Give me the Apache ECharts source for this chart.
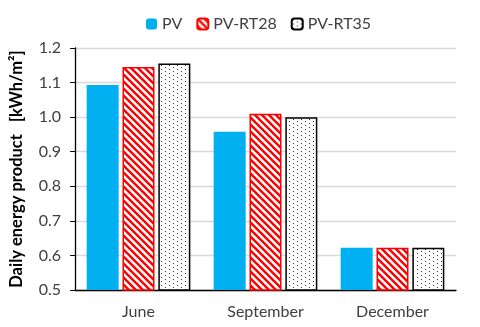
<!DOCTYPE html>
<html>
<head>
<meta charset="utf-8">
<script src="https://cdn.jsdelivr.net/npm/echarts@6/dist/echarts.min.js"></script>
<style>html,body{margin:0;padding:0;background:#fff}#c{width:480px;height:327px}</style>
</head>
<body>
<div id="c"></div>
<script>
const categories = ['June', 'September', 'December'];
const seriesNames = ['PV', 'PV-RT28', 'PV-RT35'];
const pv = [1.093, 0.958, 0.622];
const pvRT28 = [1.145, 1.010, 0.622];
const pvRT35 = [1.155, 1.000, 0.622];
const yTicks = [0.5, 0.6, 0.7, 0.8, 0.9, 1.0, 1.1, 1.2];

function stripeCanvas() {
  const s = 7;
  const c = document.createElement('canvas');
  c.width = s; c.height = s;
  const g = c.getContext('2d');
  g.fillStyle = '#fff'; g.fillRect(0, 0, s, s);
  g.strokeStyle = '#ff0000'; g.lineWidth = 2.4;
  g.beginPath();
  for (let k = -s; k <= s; k += s) {
    g.moveTo(k - 1, -1);
    g.lineTo(k + s + 1, s + 1);
  }
  g.stroke();
  return c;
}
function dotCanvas() {
  const c = document.createElement('canvas');
  c.width = 8; c.height = 8;
  const g = c.getContext('2d');
  g.fillStyle = '#fff'; g.fillRect(0, 0, 8, 8);
  g.fillStyle = '#333';
  g.fillRect(1, 1, 1, 1);
  g.fillRect(5, 3, 1, 1);
  g.fillRect(1, 5, 1, 1);
  g.fillRect(5, 7, 1, 1);
  return c;
}
const stripe = { image: stripeCanvas(), repeat: 'repeat' };
const dots = { image: dotCanvas(), repeat: 'repeat' };

const chart = echarts.init(document.getElementById('c'), null, { renderer: 'canvas' });
const font = 'Lato, "Open Sans", sans-serif';
chart.setOption({
  animation: false,
  textStyle: { fontFamily: font },
  legend: {
    top: 11, left: 141, itemWidth: 11, itemHeight: 11, itemGap: 14,
    textStyle: { fontSize: 16, color: '#404040', fontFamily: font },
    data: seriesNames
  },
  grid: { left: 74, right: 24, top: 48, bottom: 37 },
  xAxis: {
    type: 'category', data: categories,
    axisLine: { lineStyle: { color: '#000', width: 1.3 } },
    axisTick: { show: false },
    axisLabel: { fontSize: 16, color: '#404040', margin: 14, fontFamily: font }
  },
  yAxis: {
    type: 'value', min: 0.5, max: 1.2, interval: 0.1,
    name: 'Daily energy product   [kWh/m²]',
    nameLocation: 'middle', nameGap: 50, nameRotate: 90,
    nameTextStyle: { fontSize: 16.5, fontWeight: 'bold', color: '#000', fontFamily: font },
    axisLine: { show: true, lineStyle: { color: '#000', width: 1.3 } },
    axisTick: { show: true, length: 5, lineStyle: { color: '#000' } },
    axisLabel: { fontSize: 16, color: '#404040', margin: 14, fontFamily: font,
      formatter: v => v.toFixed(1) },
    splitLine: { lineStyle: { color: '#d9d9d9', width: 1.3 } }
  },
  series: [
    { name: seriesNames[0], type: 'bar', data: pv, barWidth: 32, barGap: '12%',
      itemStyle: { color: '#00b0f0' } },
    { name: seriesNames[1], type: 'bar', data: pvRT28, barWidth: 32, barGap: '12%',
      itemStyle: { color: stripe, borderColor: '#ff0000', borderWidth: 1.5 } },
    { name: seriesNames[2], type: 'bar', data: pvRT35, barWidth: 32, barGap: '12%',
      itemStyle: { color: dots, borderColor: '#000', borderWidth: 1.5 } }
  ]
});
</script>
</body>
</html>
